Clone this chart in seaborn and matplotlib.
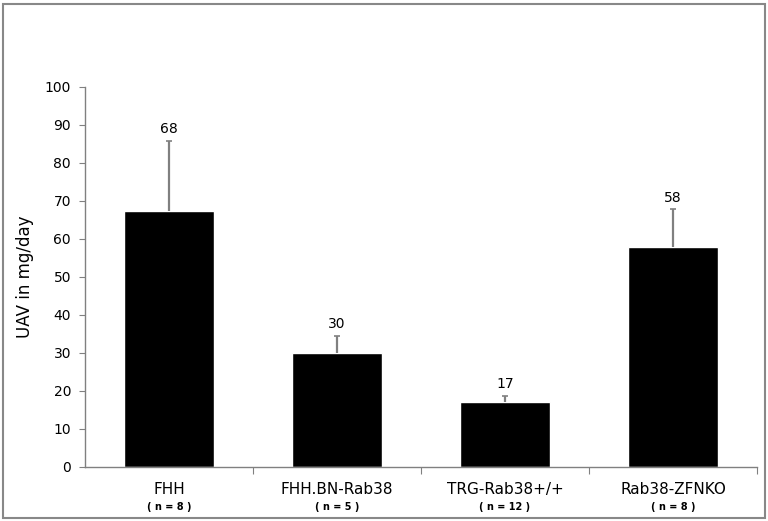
import matplotlib
matplotlib.use("Agg")
import matplotlib.pyplot as plt
import seaborn as sns
import pandas as pd
from matplotlib.patches import Rectangle

strains = ["FHH", "FHH.BN-Rab38", "TRG-Rab38+/+", "Rab38-ZFNKO"]
n_labels = ["( n = 8 )", "( n = 5 )", "( n = 12 )", "( n = 8 )"]
uav_mean = [67.3, 30.1, 17.0, 58.0]
uav_err = [18.6, 4.4, 1.8, 9.8]
value_labels = ["68", "30", "17", "58"]

df = pd.DataFrame({"strain": strains, "uav": uav_mean})

sns.set_style("white")
plt.rcParams["font.family"] = ["DejaVu Sans"]
plt.rcParams["text.color"] = "black"
plt.rcParams["axes.labelcolor"] = "black"
plt.rcParams["xtick.labelcolor"] = "black"
plt.rcParams["ytick.labelcolor"] = "black"

fig = plt.figure(figsize=(7.68, 5.21), dpi=100)
ax = fig.add_axes([85 / 768, 1 - 467 / 521, 672 / 768, 380 / 521])

sns.barplot(data=df, x="strain", y="uav", color="black", width=0.53,
            errorbar=None, saturation=1, ax=ax)

# upper error bars only
eb = ax.errorbar(range(len(strains)), uav_mean, yerr=[[0] * 4, uav_err],
                 fmt="none", ecolor="#808080", elinewidth=1.6, capsize=2.5, capthick=1.2)
eb[1][0].set_visible(False)

for i, lab in enumerate(value_labels):
    ax.text(i, uav_mean[i] + uav_err[i] + 1.2, lab, ha="center", va="bottom",
            fontsize=10, color="black")

ax.set_ylim(0, 100)
ax.set_xlim(-0.5, 3.5)
ax.set_yticks(range(0, 101, 10))
ax.tick_params(axis="y", labelsize=10, length=4, color="#808080", direction="out",
               left=True, pad=6, labelcolor="black")
ax.set_ylabel("UAV in mg/day", fontsize=12, labelpad=8, color="black")
ax.set_xlabel("")

# category boundary tick marks, labels in between
ax.set_xticks([0.5, 1.5, 2.5, 3.5])
ax.set_xticklabels([])
ax.tick_params(axis="x", which="major", length=5, color="#808080", direction="out", bottom=True)
ax.set_xticks(range(len(strains)), minor=True)
ax.set_xticklabels(strains, minor=True, fontsize=11, color="black")
ax.tick_params(axis="x", which="minor", length=0, pad=11)
for i, nl in enumerate(n_labels):
    ax.text(i, -10.5, nl, ha="center", va="center", fontsize=7,
            fontweight="bold", color="black", transform=ax.transData)

for s in ["top", "right"]:
    ax.spines[s].set_visible(False)
for s in ["left", "bottom"]:
    ax.spines[s].set_color("#808080")
    ax.spines[s].set_linewidth(1)

fig.patches.append(Rectangle((0.004, 0.006), 0.992, 0.986, transform=fig.transFigure,
                             fill=False, edgecolor="#888888", linewidth=1.5))

fig.savefig("out.png", dpi=100)
